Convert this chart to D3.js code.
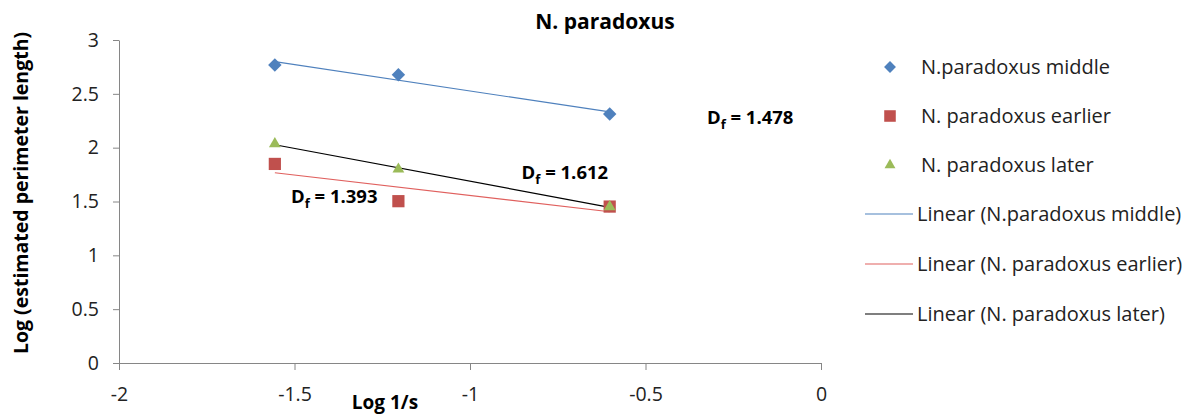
<!DOCTYPE html>
<html lang="en">
<head>
    <meta charset="UTF-8">
    <title>N. paradoxus</title>
    <script src="https://cdn.jsdelivr.net/npm/d3@7.9.0/dist/d3.min.js"></script>
    <style>
        body {
            margin: 0;
            background: #fff;
            font-family: 'Open Sans', sans-serif;
        }
        svg { display: block; }
        .axis path, .axis line { stroke: #868686; }
        .axis text { font-size: 19.5px; fill: #222; font-family: 'Open Sans', sans-serif; }
        .legend-text { font-size: 20px; fill: #222; }
        .df { font-size: 18.5px; font-weight: bold; fill: #000; }
    </style>
</head>
<body>
<svg id="chart" width="1193" height="417"></svg>
<script>
    // --- data ---
    const xValues = [-1.556, -1.204, -0.602];
    const middleY = [2.767, 2.677, 2.313];
    const earlierY = [1.849, 1.503, 1.453];
    const laterY = [2.035, 1.800, 1.450];

    const seriesNames = ["N.paradoxus middle", "N. paradoxus earlier", "N. paradoxus later"];
    const trendNames = ["Linear (N.paradoxus middle)", "Linear (N. paradoxus earlier)", "Linear (N. paradoxus later)"];
    const xTicks = [-2, -1.5, -1, -0.5, 0];
    const yTicks = [0, 0.5, 1, 1.5, 2, 2.5, 3];

    // fractal dimension labels, anchored in data units
    const dfLabels = [
        {value: "1.478", x: -0.325, y: 2.22},
        {value: "1.612", x: -0.853, y: 1.71},
        {value: "1.393", x: -1.51, y: 1.485}
    ];

    const colors = ["#4F81BD", "#C0504D", "#9BBB59"];
    const trendColors = ["#4F81BD", "#E0605E", "#000000"];
    const shapes = [d3.symbolDiamond2, d3.symbolSquare2, d3.symbolTriangle2];
    const markSizes = [115, 190, 100];
    const legendSizes = [90, 170, 85];

    const svg = d3.select("#chart");
    const margin = {left: 119, right: 372, top: 40, bottom: 54};
    const W = 1193, H = 417;

    const x = d3.scaleLinear().domain([-2, 0]).range([margin.left, W - margin.right]);
    const y = d3.scaleLinear().domain([0, 3]).range([H - margin.bottom, margin.top]);

    // plain hyphen for negatives, like the original
    const fmt = d => String(d);

    // axes
    svg.append("g").attr("class", "axis")
        .attr("transform", `translate(0,${y(0)})`)
        .call(d3.axisBottom(x).tickValues(xTicks).tickSize(7).tickSizeOuter(0).tickPadding(13).tickFormat(fmt))
        .call(g => g.selectAll("text").attr("dy", "0.9em"));

    svg.append("g").attr("class", "axis")
        .attr("transform", `translate(${x(-2)},0)`)
        .call(d3.axisLeft(y).tickValues(yTicks).tickSize(6).tickSizeOuter(0).tickPadding(14).tickFormat(fmt));

    // titles
    svg.append("text").attr("x", 605).attr("y", 29).attr("text-anchor", "middle")
        .style("font-size", "21px").style("font-weight", "bold").text("N. paradoxus");

    svg.append("text").attr("x", 385).attr("y", 409).attr("text-anchor", "middle")
        .style("font-size", "19px").style("font-weight", "bold").text("Log 1/s");

    svg.append("text").attr("transform", "translate(28,193) rotate(-90)").attr("text-anchor", "middle")
        .style("font-size", "19.5px").style("font-weight", "bold").text("Log (estimated perimeter length)");

    // series + linear trendlines
    const allY = [middleY, earlierY, laterY];

    function fit(xs, ys) {
        const mx = d3.mean(xs), my = d3.mean(ys);
        const b = d3.sum(xs, (v, i) => (v - mx) * (ys[i] - my)) / d3.sum(xs, v => (v - mx) * (v - mx));
        return {b, a: my - b * mx};
    }

    const xExt = d3.extent(xValues);
    const trendG = svg.append("g");
    const markG = svg.append("g");

    allY.forEach((ys, s) => {
        const f = fit(xValues, ys);
        trendG.append("line")
            .attr("x1", x(xExt[0])).attr("y1", y(f.a + f.b * xExt[0]))
            .attr("x2", x(xExt[1])).attr("y2", y(f.a + f.b * xExt[1]))
            .attr("stroke", trendColors[s]).attr("stroke-width", 1.2);

        markG.selectAll(null).data(xValues.map((v, i) => [v, ys[i]])).enter()
            .append("path")
            .attr("d", d3.symbol().type(shapes[s]).size(markSizes[s]))
            .attr("transform", d => `translate(${x(d[0])},${y(d[1])})`)
            .attr("fill", colors[s]);
    });

    // D_f labels
    dfLabels.forEach(d => {
        const t = svg.append("text").attr("class", "df")
            .attr("x", x(d.x)).attr("y", y(d.y));
        t.append("tspan").text("D");
        t.append("tspan").attr("dy", 5).style("font-size", "13px").text("f");
        t.append("tspan").attr("dy", -5).text(" = " + d.value);
    });

    // legend
    const legend = svg.append("g").attr("transform", "translate(865,0)");
    const rowY = [67, 116, 165, 214, 264, 314];
    seriesNames.forEach((name, i) => {
        legend.append("path")
            .attr("d", d3.symbol().type(shapes[i]).size(legendSizes[i]))
            .attr("transform", `translate(25,${rowY[i]})`)
            .attr("fill", colors[i]);
        legend.append("text").attr("class", "legend-text")
            .attr("x", 56).attr("y", rowY[i]).attr("dy", "0.35em").text(name);
    });
    trendNames.forEach((name, i) => {
        const ry = rowY[i + 3];
        legend.append("line").attr("x1", 0).attr("x2", 48).attr("y1", ry).attr("y2", ry)
            .attr("stroke", trendColors[i]).attr("stroke-width", 1.2);
        legend.append("text").attr("class", "legend-text")
            .attr("x", 52).attr("y", ry).attr("dy", "0.35em").text(name);
    });
</script>
</body>
</html>
